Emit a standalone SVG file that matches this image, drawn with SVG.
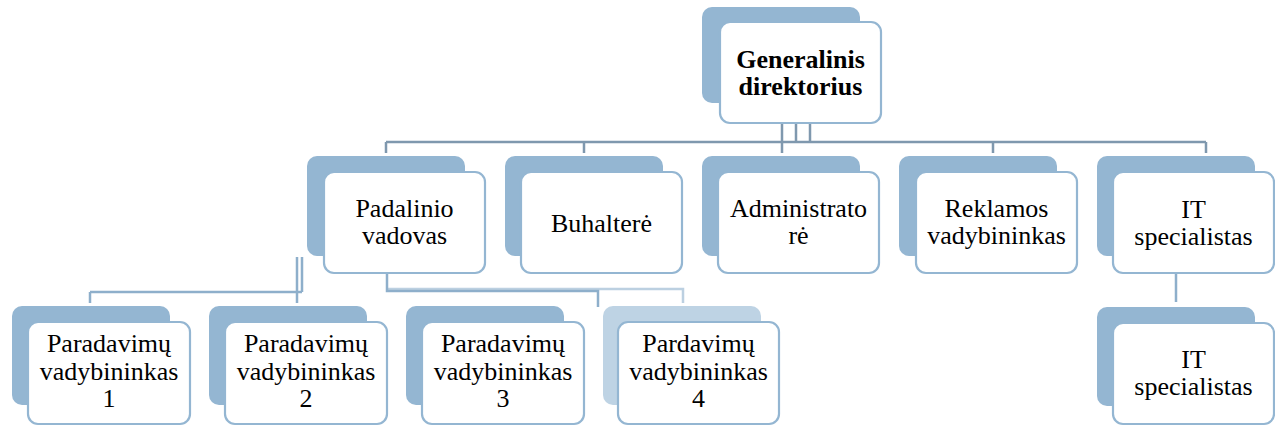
<svg xmlns="http://www.w3.org/2000/svg" width="1275" height="426" viewBox="0 0 1275 426">
<style>
.back{fill:#94b6d2}
.back.light{fill:#bed3e4}
.front{fill:#ffffff;stroke:#94b6d2;stroke-width:2.2}
.t{font-family:"Liberation Serif","Times New Roman",serif;font-size:26px;fill:#000;text-anchor:middle}
.b{font-weight:bold}
.c{fill:none;stroke:#7f98ae;stroke-width:2.5}
.c2{fill:none;stroke:#8eafcb;stroke-width:2.5}
.c3{fill:none;stroke:#bcd0e1;stroke-width:2.5}
</style>
<rect width="1275" height="426" fill="#ffffff"/>
<g id="connectors">
<path class="c" d="M782 124V153M796 124V142M810 124V142M386 142H1206M386 142V153M584 142V153M993 142V153M1206 142V153"/>
<path class="c2" d="M302 257V292M297 257V303M90 292H302M90 292V303"/>
<path class="c3" d="M387 289H683V303"/>
<path class="c2" d="M387 274V291H598V307"/>
<path class="c2" d="M1176 274V302"/>
</g>
<g id="n-gen">
<rect class="back" x="702" y="7" width="158" height="96" rx="10"/>
<rect class="front" x="720" y="22" width="161" height="101" rx="10"/>
<text class="t b" x="800.5" y="68">Generalinis</text>
<text class="t b" x="800.5" y="95">direktorius</text>
</g>
<g id="n-padalinio">
<rect class="back" x="307" y="156" width="158" height="100" rx="10"/>
<rect class="front" x="324" y="172" width="161" height="101" rx="10"/>
<text class="t" x="404.5" y="217">Padalinio</text>
<text class="t" x="404.5" y="244">vadovas</text>
</g>
<g id="n-buhaltere">
<rect class="back" x="505" y="156" width="158" height="100" rx="10"/>
<rect class="front" x="521" y="172" width="161" height="101" rx="10"/>
<text class="t" x="601.5" y="232">Buhalterė</text>
</g>
<g id="n-admin">
<rect class="back" x="702" y="156" width="158" height="100" rx="10"/>
<rect class="front" x="718" y="172" width="161" height="101" rx="10"/>
<text class="t" x="798.5" y="217">Administrato</text>
<text class="t" x="798.5" y="244">rė</text>
</g>
<g id="n-reklamos">
<rect class="back" x="899" y="156" width="158" height="100" rx="10"/>
<rect class="front" x="916" y="172" width="161" height="101" rx="10"/>
<text class="t" x="996.5" y="217">Reklamos</text>
<text class="t" x="996.5" y="244">vadybininkas</text>
</g>
<g id="n-it">
<rect class="back" x="1097" y="156" width="158" height="100" rx="10"/>
<rect class="front" x="1113" y="172" width="161" height="101" rx="10"/>
<text class="t" x="1193.5" y="218">IT</text>
<text class="t" x="1193.5" y="245">specialistas</text>
</g>
<g id="n-p1">
<rect class="back" x="12" y="306" width="158" height="99" rx="10"/>
<rect class="front" x="28" y="322" width="162" height="102" rx="10"/>
<text class="t" x="109" y="352">Paradavimų</text>
<text class="t" x="109" y="380">vadybininkas</text>
<text class="t" x="109" y="407">1</text>
</g>
<g id="n-p2">
<rect class="back" x="209" y="306" width="158" height="99" rx="10"/>
<rect class="front" x="225" y="322" width="162" height="102" rx="10"/>
<text class="t" x="306" y="352">Paradavimų</text>
<text class="t" x="306" y="380">vadybininkas</text>
<text class="t" x="306" y="407">2</text>
</g>
<g id="n-p3">
<rect class="back" x="406" y="306" width="158" height="99" rx="10"/>
<rect class="front" x="422" y="322" width="162" height="102" rx="10"/>
<text class="t" x="503" y="352">Paradavimų</text>
<text class="t" x="503" y="380">vadybininkas</text>
<text class="t" x="503" y="407">3</text>
</g>
<g id="n-p4">
<rect class="back light" x="603" y="306" width="158" height="99" rx="10"/>
<rect class="front" x="618" y="322" width="161" height="102" rx="10"/>
<text class="t" x="698.5" y="352">Pardavimų</text>
<text class="t" x="698.5" y="380">vadybininkas</text>
<text class="t" x="698.5" y="407">4</text>
</g>
<g id="n-it2">
<rect class="back" x="1097" y="307" width="158" height="99" rx="10"/>
<rect class="front" x="1113" y="323" width="161" height="101" rx="10"/>
<text class="t" x="1193.5" y="368">IT</text>
<text class="t" x="1193.5" y="395">specialistas</text>
</g>
</svg>
